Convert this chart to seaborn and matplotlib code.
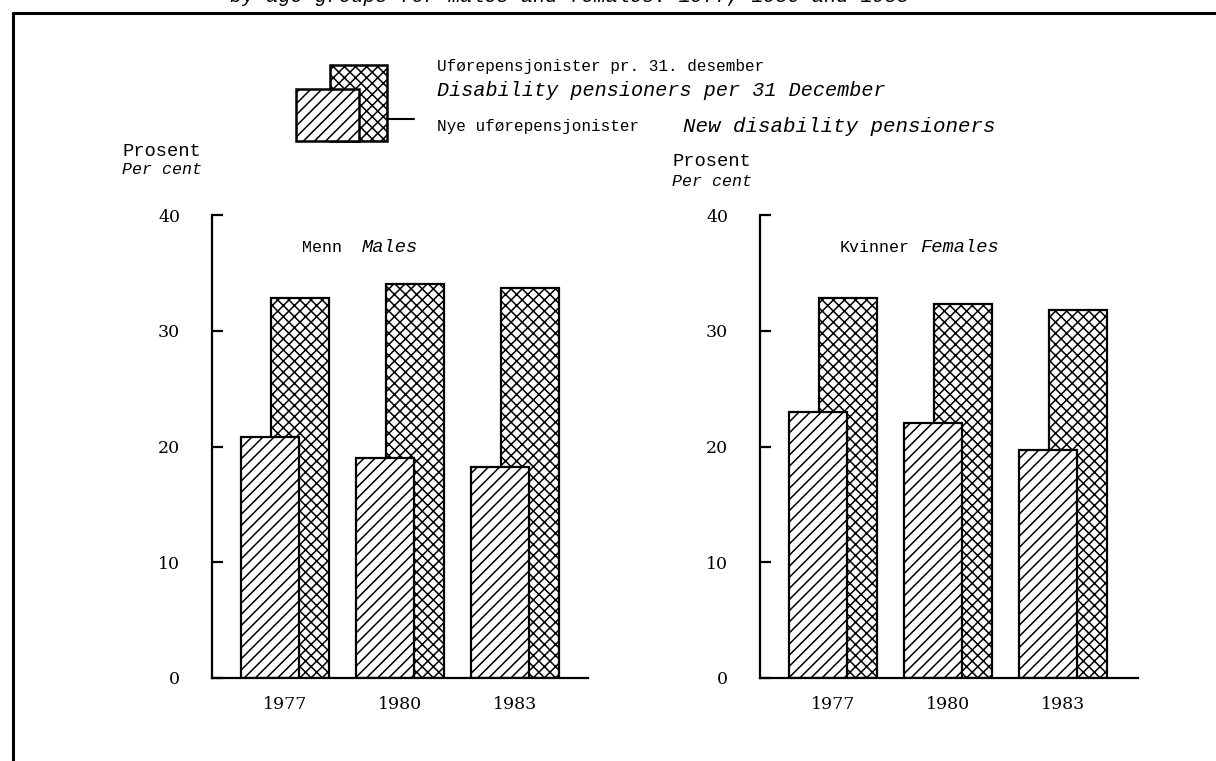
import matplotlib
matplotlib.use("Agg")
import matplotlib.pyplot as plt
from matplotlib.patches import Rectangle
from matplotlib.lines import Line2D
import pandas as pd
import seaborn as sns

years = ["1977", "1980", "1983"]
men_new = [20.8, 19.0, 18.2]
men_all = [32.8, 34.0, 33.7]
women_new = [23.0, 22.0, 19.7]
women_all = [32.8, 32.3, 31.8]
yticks = [0, 10, 20, 30, 40]

sns.set_theme(style="white")
plt.rcParams["font.family"] = ["Liberation Mono", "DejaVu Sans"]
plt.rcParams["hatch.color"] = "black"
plt.rcParams["hatch.linewidth"] = 1.1
for k in ("text.color", "xtick.color", "ytick.color", "axes.labelcolor"):
    plt.rcParams[k] = "black"

W, H = 1216, 761
fig = plt.figure(figsize=(W / 100, H / 100), dpi=100)


def fx(x):
    return x / W


def fy(y):
    return 1 - y / H


def txt(x, y, s, size, italic=False):
    fig.text(fx(x), fy(y), s, fontsize=size, style="italic" if italic else "normal",
             va="center", ha="left")


def panel(x0, x1, new, total):
    ax = fig.add_axes([fx(x0), fy(678), (x1 - x0) / W, (678 - 215) / H])
    idx = list(range(len(years)))
    d_all = pd.DataFrame({"pos": [i + 0.26 for i in idx], "pct": total})
    d_new = pd.DataFrame({"pos": idx, "pct": new})
    # cross-hatched bars behind, diagonal bars in front
    sns.barplot(data=d_all, x="pos", y="pct", native_scale=True, width=0.51,
                color="white", edgecolor="black", linewidth=1.6, hatch="xxx",
                errorbar=None, saturation=1, ax=ax)
    sns.barplot(data=d_new, x="pos", y="pct", native_scale=True, width=0.51,
                color="white", edgecolor="black", linewidth=1.6, hatch="///",
                errorbar=None, saturation=1, ax=ax)
    ax.set_xlim(-0.505, -0.505 + (x1 - x0) / 115)
    ax.set_ylim(0, 40)
    ax.set_xticks([i + 0.13 for i in idx], years)
    ax.set_yticks(yticks)
    ax.set(xlabel="", ylabel="")
    sns.despine(ax=ax)
    for s in ("left", "bottom"):
        ax.spines[s].set_linewidth(1.6)
        ax.spines[s].set_color("black")
    ax.tick_params(axis="y", direction="in", length=8, width=1.6, pad=23, left=True)
    ax.tick_params(axis="x", length=0, pad=13)
    for lab in ax.get_xticklabels() + ax.get_yticklabels():
        lab.set_family("DejaVu Serif")
        lab.set_fontsize(12.5)
    ax.patch.set_alpha(0)
    return ax


panel(212, 588, men_new, men_all)
panel(760, 1138, women_new, women_all)

# frame of the page
fig.add_artist(Line2D([fx(13), 1], [fy(13), fy(13)], color="black", lw=2.2))
fig.add_artist(Line2D([fx(13), fx(13)], [fy(13), 0], color="black", lw=2.2))

# heading, cut off at the top edge as in the scanned page
fig.text(fx(230), fy(1.5), "by age-groups for males and females. 1977, 1980 and 1983",
         fontsize=14.5, style="italic", va="baseline", ha="left")

# legend key
fig.add_artist(Rectangle((fx(330), fy(141)), 57 / W, 76 / H, facecolor="white",
                         edgecolor="black", lw=1.8, hatch="xxx", transform=fig.transFigure))
fig.add_artist(Rectangle((fx(296), fy(141)), 63 / W, 52 / H, facecolor="white",
                         edgecolor="black", lw=1.8, hatch="///", transform=fig.transFigure))
fig.add_artist(Line2D([fx(387), fx(414)], [fy(119), fy(119)], color="black", lw=1.5))

txt(437, 67, "Uførepensjonister pr. 31. desember", 11.5)
txt(437, 90, "Disability pensioners per 31 December", 14.5, italic=True)
txt(437, 127, "Nye uførepensjonister", 11.5)
txt(683, 127, "New disability pensioners", 15, italic=True)

txt(122, 151, "Prosent", 13.5)
txt(122, 170, "Per cent", 12, italic=True)
txt(673, 161, "Prosent", 13.5)
txt(672, 182, "Per cent", 12, italic=True)

txt(302, 247, "Menn", 12)
txt(362, 247, "Males", 13.5, italic=True)
txt(840, 247, "Kvinner", 12)
txt(920, 247, "Females", 13.5, italic=True)

fig.savefig("out.png", dpi=100)
